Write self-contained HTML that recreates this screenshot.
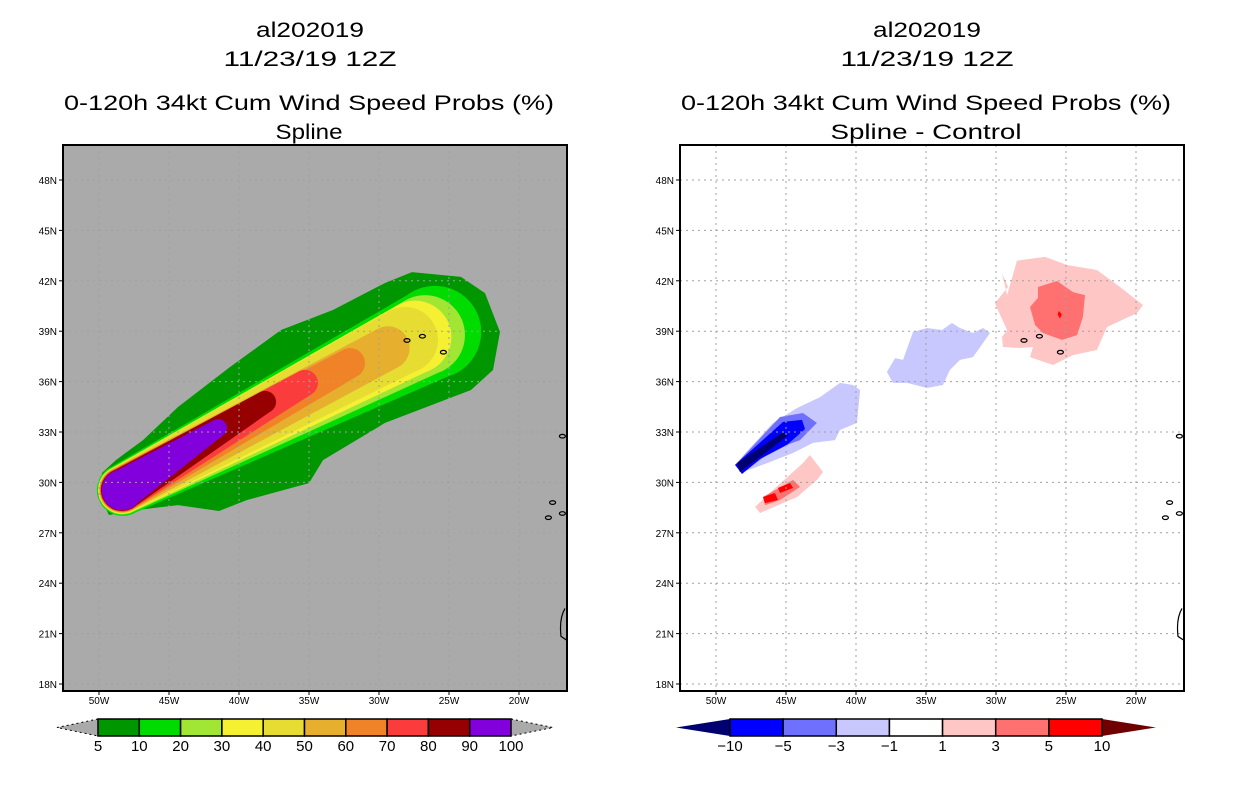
<!DOCTYPE html>
<html><head><meta charset="utf-8"><style>
html,body{margin:0;padding:0;background:#fff;}
svg{display:block;font-family:"Liberation Sans",sans-serif;}
</style></head><body>
<svg id="fig" width="1236" height="800" viewBox="0 0 1236 800" xmlns="http://www.w3.org/2000/svg">
<rect width="1236" height="800" fill="#fff"/>
<g fill="#000" font-size="21" text-anchor="middle">
<text x="310" y="37" textLength="108" lengthAdjust="spacingAndGlyphs">al202019</text>
<text x="310" y="66" textLength="173" lengthAdjust="spacingAndGlyphs">11/23/19 12Z</text>
<text x="309" y="110" textLength="490" lengthAdjust="spacingAndGlyphs">0-120h 34kt Cum Wind Speed Probs (%)</text>
<text x="309" y="139" textLength="67" lengthAdjust="spacingAndGlyphs">Spline</text>
</g>
<g fill="#000" font-size="21" text-anchor="middle">
<text x="927" y="37" textLength="108" lengthAdjust="spacingAndGlyphs">al202019</text>
<text x="927" y="66" textLength="173" lengthAdjust="spacingAndGlyphs">11/23/19 12Z</text>
<text x="926" y="110" textLength="490" lengthAdjust="spacingAndGlyphs">0-120h 34kt Cum Wind Speed Probs (%)</text>
<text x="926" y="139" textLength="191" lengthAdjust="spacingAndGlyphs">Spline - Control</text>
</g>
<g id="left"></g>
<g id="right"></g>
<g id="cbl"></g>
<g id="cbr"></g>
</svg>
<script>
const latTicks = [18,21,24,27,30,33,36,39,42,45,48];
const lonTicks = [-50,-45,-40,-35,-30,-25,-20];
const probLevels = [5,10,20,30,40,50,60,70,80,90,100];
const probColors = ["#009600","#00dc00","#a0e632","#f5f032","#e6dc32","#e6af2d","#f08228","#fa3c3c","#960000","#8200dc"];
const diffLabels = ["-10","-5","-3","-1","1","3","5","10"];
const diffColors = ["#0000ff","#7070ff","#c8c8ff","#ffffff","#ffc6c6","#ff7070","#ff0000"];
const diffLow = "#000070", diffHigh = "#700000";
// outer 5% contour (lon, lat)
const outer5 = [[-49.79,30.56],[-48.79,31.33],[-46.86,32.52],[-44.36,34.49],[-40.64,36.87],[-37.0,39.07],[-33.29,40.26],[-29.57,41.87],[-27.64,42.52],[-24.14,42.23],[-22.43,41.27],[-21.36,38.95],[-21.86,36.69],[-23.43,35.5],[-29.57,33.54],[-34.0,31.33],[-35.0,29.96],[-39.43,28.95],[-41.43,28.3],[-44.36,28.65],[-47.29,28.36],[-49.29,28.06],[-49.79,28.95]];
// inner contours 10..100: head lon, head lat, head radius(deg), tail lon, tail lat, tail radius(deg)
const plumeHeadLon = [-26.0,-26.71,-27.43,-28.14,-29.36,-32.07,-35.29,-38.14,-41.5];
const plumeHeadLat = [38.95,38.77,38.65,38.48,38.0,37.1,35.92,34.79,33.24];
const plumeHeadR = [3.3,2.85,2.6,2.35,1.55,1.07,0.93,0.79,0.64];
const plumeTailLon = [-48.3,-48.33,-48.35,-48.36,-48.36,-48.36,-48.36,-48.36,-48.36];
const plumeTailLat = [29.55,29.55,29.55,29.55,29.55,29.55,29.55,29.55,29.55];
const plumeTailR = [1.85,1.75,1.7,1.66,1.62,1.58,1.54,1.5,1.45];
// difference field regions
const diffPink = [[-29.21,41.15],[-28.5,43.2],[-26.5,43.42],[-24.93,42.94],[-22.79,42.64],[-21.14,41.63],[-19.5,40.56],[-19.93,40.08],[-22.07,39.25],[-22.79,37.88],[-24.5,37.58],[-25.93,36.99],[-27.57,37.46],[-27.36,38.06],[-28.29,38.0],[-29.5,38.06],[-29.57,38.65],[-29.21,39.07],[-29.93,40.38],[-30.07,40.68],[-29.14,41.63],[-29.57,42.46]];
const diffSalmon = [[-27.0,41.63],[-25.64,41.99],[-24.5,41.33],[-23.64,41.15],[-23.79,39.85],[-24.21,38.77],[-25.29,38.48],[-26.64,38.89],[-27.21,39.37],[-27.57,40.44],[-27.0,40.98]];
const diffRedDot = [[-25.5,40.2],[-25.3,40.0],[-25.43,39.75],[-25.6,40.0]];
const diffLavMid = [[-37.79,36.57],[-37.21,37.4],[-36.64,37.29],[-35.93,38.95],[-34.93,39.19],[-33.86,39.07],[-33.14,39.49],[-32.57,39.19],[-31.64,38.89],[-30.93,39.19],[-30.43,38.89],[-30.93,38.3],[-31.64,37.46],[-32.57,37.29],[-33.29,36.69],[-33.79,35.8],[-34.93,35.62],[-36.36,35.92],[-37.36,35.92]];
const diffLavSW = [[-48.64,31.04],[-47.57,32.05],[-45.93,33.54],[-44.21,34.43],[-42.57,35.08],[-41.14,35.92],[-40.21,35.8],[-39.71,35.5],[-39.93,33.54],[-41.14,33.12],[-41.5,32.52],[-43.07,32.35],[-44.5,31.75],[-46.36,31.15],[-48.07,30.62]];
const diffMedBlue = [[-48.5,31.15],[-45.43,33.89],[-43.79,34.13],[-42.79,33.54],[-44.0,32.52],[-45.93,31.93],[-47.79,30.74]];
const diffBlue = [[-48.64,31.04],[-45.21,33.6],[-43.86,33.72],[-43.64,33.18],[-44.93,32.23],[-46.86,31.39],[-48.14,30.5]];
const diffNavy = [[-48.5,31.15],[-45.21,32.99],[-44.86,32.8],[-46.86,31.51],[-48.29,30.62]];
const diffPinkSW = [[-47.21,28.54],[-45.93,29.55],[-43.79,31.15],[-43.29,31.63],[-42.36,30.62],[-42.79,30.14],[-44.21,29.13],[-46.86,28.18]];
const diffSalmonSW = [[-46.64,29.13],[-44.5,30.14],[-44.0,29.73],[-45.43,28.95],[-46.5,28.65]];
const diffRedSW1 = [[-46.64,29.13],[-45.79,29.37],[-45.57,28.95],[-46.5,28.77]];
const diffRedSW2 = [[-45.57,29.67],[-44.71,29.96],[-44.5,29.67],[-45.43,29.37]];
const islands = [[-28.0,38.45],[-26.9,38.7],[-25.4,37.75],[-16.9,32.75],[-17.6,28.8],[-16.9,28.15],[-16.3,28.4],[-17.9,27.9]];

const NS="http://www.w3.org/2000/svg";
function mk(tag,attrs,parent){const e=document.createElementNS(NS,tag);for(const k in attrs)e.setAttribute(k,attrs[k]);parent.appendChild(e);return e;}
function makeMap(g,x0,bg){
  const X0=x0, FW=504, FY0=145, FY1=691;
  const xs=lon=>X0+36+(lon+50)*14;
  const ys=lat=>180+(48-lat)*16.8;
  const clipId='clip'+x0;
  const defs=mk('defs',{},g);
  const cp=mk('clipPath',{id:clipId},defs);
  mk('rect',{x:X0,y:FY0,width:FW,height:FY1-FY0},cp);
  const bgr=mk('rect',{x:X0,y:FY0,width:FW,height:FY1-FY0,fill:bg},g);
  
  
  const inner=mk('g',{'clip-path':'url(#'+clipId+')'},g);
  return {xs,ys,inner,X0,FW,FY0,FY1};
}
function poly(m,pts,fill,name){
  const p=mk('polygon',{points:pts.map(q=>m.xs(q[0]).toFixed(1)+','+m.ys(q[1]).toFixed(1)).join(' '),fill:fill},m.inner);
  
  
}
function capsule(m,i,fill,name){
  const ax=m.xs(plumeTailLon[i]),ay=m.ys(plumeTailLat[i]),ra=plumeTailR[i]*14;
  const bx=m.xs(plumeHeadLon[i]),by=m.ys(plumeHeadLat[i]),rb=plumeHeadR[i]*14;
  const dx=bx-ax,dy=by-ay,L=Math.hypot(dx,dy),ux=dx/L,uy=dy/L,nx=-uy,ny=ux;
  const c=(rb-ra)/L,s=Math.sqrt(1-c*c);
  const m1=[ux*c+nx*s,uy*c+ny*s],m2=[ux*c-nx*s,uy*c-ny*s];
  const g=mk('g',{fill:fill},m.inner);
  
  
  mk('circle',{cx:ax,cy:ay,r:ra},g);
  mk('circle',{cx:bx,cy:by,r:rb},g);
  mk('polygon',{points:[[ax+ra*m1[0],ay+ra*m1[1]],[bx+rb*m1[0],by+rb*m1[1]],[bx+rb*m2[0],by+rb*m2[1]],[ax+ra*m2[0],ay+ra*m2[1]]].map(p=>p.join(',')).join(' ')},g);
}
function decorate(m,g){
  const grid=mk('g',{stroke:'#a0a0a0','stroke-width':1,'stroke-dasharray':'2,4',fill:'none'},m.inner);
  
  
  latTicks.forEach(l=>mk('line',{x1:m.X0,x2:m.X0+m.FW,y1:m.ys(l),y2:m.ys(l)},grid));
  lonTicks.forEach(l=>mk('line',{y1:m.FY0,y2:m.FY1,x1:m.xs(l),x2:m.xs(l)},grid));
  const isl=mk('g',{stroke:'#000','stroke-width':1.2,fill:'none'},m.inner);
  
  
  islands.forEach(p=>mk('ellipse',{cx:m.xs(p[0]),cy:m.ys(p[1]),rx:3,ry:1.8},isl));
  mk('path',{d:'M'+(m.X0+m.FW-2)+','+(m.ys(22.5))+' q-6,10 -4,28 l6,4'},isl);
  const fr=mk('rect',{x:m.X0,y:m.FY0,width:m.FW,height:m.FY1-m.FY0,fill:'none',stroke:'#000','stroke-width':2},g);
  
  
  const ax=mk('g',{'font-size':10,fill:'#000'},g);
  
  
  latTicks.forEach(l=>{
    mk('line',{x1:m.X0-4,x2:m.X0,y1:m.ys(l),y2:m.ys(l),stroke:'#000'},ax);
    const t=mk('text',{x:m.X0-6,y:m.ys(l)+4,'text-anchor':'end'},ax);t.textContent=l+'N';
  });
  lonTicks.forEach(l=>{
    mk('line',{x1:m.xs(l),x2:m.xs(l),y1:m.FY1,y2:m.FY1+4,stroke:'#000'},ax);
    const t=mk('text',{x:m.xs(l),y:m.FY1+13,'text-anchor':'middle'},ax);t.textContent=(-l)+'W';
  });
}

// Left map
const L=makeMap(document.getElementById('left'),63,'#aaaaaa');
poly(L,outer5,probColors[0],'contour-5');
for(let i=0;i<9;i++) capsule(L,i,probColors[i+1],'contour-'+probLevels[i+1]);
decorate(L,document.getElementById('left'));

// Right map
const R=makeMap(document.getElementById('right'),680,'#ffffff');
poly(R,diffPink,diffColors[4],'diff-pink-ne');
poly(R,diffSalmon,diffColors[5],'diff-salmon-ne');
poly(R,diffRedDot,diffColors[6],'diff-red-ne');
poly(R,diffLavMid,diffColors[2],'diff-lavender-mid');
poly(R,diffLavSW,diffColors[2],'diff-lavender-sw');
poly(R,diffMedBlue,diffColors[1],'diff-medblue-sw');
poly(R,diffBlue,diffColors[0],'diff-blue-sw');
poly(R,diffNavy,diffLow,'diff-navy-sw');
poly(R,diffPinkSW,diffColors[4],'diff-pink-sw');
poly(R,diffSalmonSW,diffColors[5],'diff-salmon-sw');
poly(R,diffRedSW1,diffColors[6],'diff-red-sw1');
poly(R,diffRedSW2,diffColors[6],'diff-red-sw2');
decorate(R,document.getElementById('right'));

// Colorbars
function colorbar(g,x0,x1,tipL,tipR,colors,labels,lowC,highC,dashed){
  const y0=719,y1=736,ym=727.5,w=(x1-x0)/colors.length;
  const tl=mk('polygon',{points:`${x0},${y0} ${tipL},${ym} ${x0},${y1}`,fill:lowC,stroke:dashed?'#000':'none','stroke-dasharray':'2,3','stroke-width':1},g);
  
  
  const tr=mk('polygon',{points:`${x1},${y0} ${tipR},${ym} ${x1},${y1}`,fill:highC,stroke:dashed?'#000':'none','stroke-dasharray':'2,3','stroke-width':1},g);
  
  
  colors.forEach((c,i)=>{
    const r=mk('rect',{x:x0+i*w,y:y0,width:w,height:y1-y0,fill:c,stroke:'#000','stroke-width':1.5},g);
    
    
  });
  labels.forEach((lb,i)=>{
    const t=mk('text',{x:x0+i*w,y:751,'text-anchor':'middle','font-size':15,fill:'#000'},g);
    
    
    t.textContent=lb.replace('-','\u2212');
  });
}
colorbar(document.getElementById('cbl'),98,511,57,553,probColors,probLevels.map(String),'#aaaaaa','#aaaaaa',true);
colorbar(document.getElementById('cbr'),730,1102,676,1156,diffColors,diffLabels,diffLow,diffHigh,false);
</script>
</body></html>
